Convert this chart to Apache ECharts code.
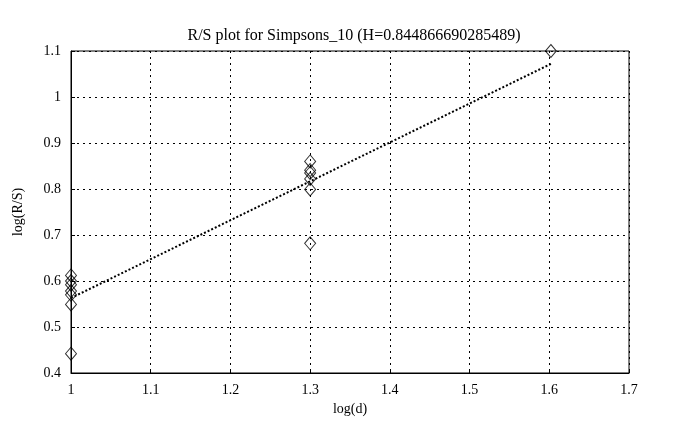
<!DOCTYPE html>
<html>
<head>
<meta charset="utf-8">
<script src="https://cdn.jsdelivr.net/npm/echarts@6/dist/echarts.min.js"></script>
<style>
  html, body { margin: 0; padding: 0; background: #fff; }
  #chart { width: 686px; height: 430px; }
</style>
</head>
<body>
<div id="chart"></div>
<script>
// R/S points, log(d) against log(R/S)
const pointX = [1, 1, 1, 1, 1, 1, 1, 1.3, 1.3, 1.3, 1.3, 1.3, 1.3, 1.602]
const pointY = [0.612, 0.600, 0.592, 0.578, 0.570, 0.549, 0.442, 0.860, 0.841, 0.835, 0.822, 0.799, 0.682, 1.100]

// fitted line endpoints
const fitX = [1, 1.602]
const fitY = [0.563, 1.072]

const titleText = 'R/S plot for Simpsons_10 (H=0.844866690285489)'

const chart = echarts.init(document.getElementById('chart'))

const font = 'Liberation Serif'

const option = {
    animation: false,
    title: {
        text: titleText,
        left: 349,
        top: 23,
        textAlign: 'center',
        textStyle: {
            fontFamily: font,
            fontSize: 16,
            fontWeight: 'normal',
            color: '#000'
        }
    },
    grid: {
        left: 71,
        right: 57,
        top: 51,
        bottom: 57,
        show: true,
        borderColor: '#000',
        borderWidth: 1,
        backgroundColor: 'transparent'
    },
    xAxis: {
        type: 'value',
        min: 1,
        max: 1.7,
        interval: 0.1,
        name: 'log(d)',
        nameLocation: 'middle',
        nameGap: 28,
        nameTextStyle: { fontFamily: font, fontSize: 14, color: '#000' },
        axisLine: { show: true, onZero: false, lineStyle: { color: '#000' } },
        axisTick: { show: true, inside: true, length: 4, lineStyle: { color: '#000' } },
        axisLabel: {
            fontFamily: font,
            fontSize: 14,
            color: '#000',
            margin: 10,
            formatter: v => String(Math.round(v * 10) / 10)
        },
        splitLine: { show: true, lineStyle: { color: '#000', type: [2, 4], width: 1 } }
    },
    yAxis: {
        type: 'value',
        min: 0.4,
        max: 1.1,
        interval: 0.1,
        name: 'log(R/S)',
        nameLocation: 'middle',
        nameGap: 46,
        nameTextStyle: { fontFamily: font, fontSize: 14, color: '#000' },
        axisLine: { show: true, onZero: false, lineStyle: { color: '#000' } },
        axisTick: { show: true, inside: true, length: 4, lineStyle: { color: '#000' } },
        axisLabel: {
            fontFamily: font,
            fontSize: 14,
            color: '#000',
            margin: 10,
            formatter: v => String(Math.round(v * 10) / 10)
        },
        splitLine: { show: true, lineStyle: { color: '#000', type: [2, 4], width: 1 } }
    },
    series: [
        {
            type: 'line',
            data: fitX.map((x, i) => [x, fitY[i]]),
            symbol: 'none',
            lineStyle: { color: '#000', width: 2, type: [2, 2] },
            z: 3
        },
        {
            type: 'scatter',
            data: pointX.map((x, i) => [x, pointY[i]]),
            symbol: 'diamond',
            symbolSize: [11, 13],
            itemStyle: { color: 'transparent', borderColor: '#000', borderWidth: 1 },
            z: 4
        }
    ]
}

chart.setOption(option)
</script>
</body>
</html>
